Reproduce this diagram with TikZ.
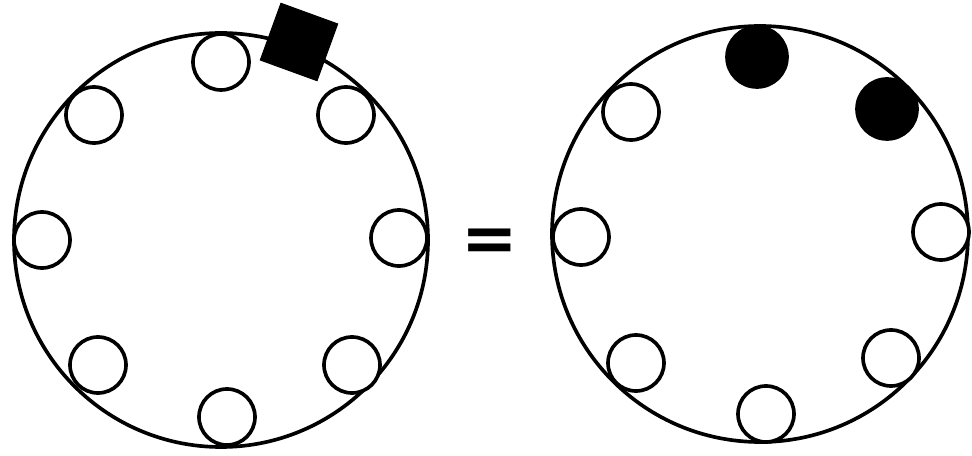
\documentclass[tikz,border=0pt]{standalone}
\usepackage{fontspec}
\newfontfamily\eqfont{DejaVu Sans}
\usepackage{tikz}
\usetikzlibrary{positioning}

\begin{document}
\begin{tikzpicture}[
    ring/.style={draw, circle, line width=2.6pt, minimum size=10.35cm, inner sep=0pt},
    bead/.style={draw, circle, line width=2.6pt, fill=white, minimum size=1.4cm, inner sep=0pt},
    fullbead/.style={bead, fill=black, minimum size=1.5cm},
    block/.style={draw, fill=black, line width=1pt, minimum size=1.5cm, inner sep=0pt, rotate=-20},
]
    \useasboundingbox (0,0) rectangle (24.3,11.4);
    % left ring
    \node[ring] (r0) at (5.525,5.4) {};
    \node[bead] (a1) at (5.525,9.85) {};
    \node[bead] (a2) at (8.65,8.525) {};
    \node[bead] (a3) at (9.975,5.45) {};
    \node[bead] (a4) at (8.8,2.275) {};
    \node[bead] (a5) at (5.675,0.975) {};
    \node[bead] (a6) at (2.45,2.275) {};
    \node[bead] (a7) at (1.05,5.4) {};
    \node[bead] (a8) at (2.35,8.525) {};
    \node[block] (sq) at (7.475,10.35) {};
    % equals
    \node[inner sep=0pt] (eq) at (12.2375,5.275) {\eqfont\bfseries\fontsize{48}{48}\selectfont =};
    % right ring
    \node[ring, minimum size=10.4cm] (r1) at (19.0,5.55) {};
    \node[fullbead] (b1) at (18.925,9.975) {};
    \node[fullbead] (b2) at (22.175,8.675) {};
    \node[bead] (b3) at (23.525,5.6) {};
    \node[bead] (b4) at (22.275,2.45) {};
    \node[bead] (b5) at (19.15,1.05) {};
    \node[bead] (b6) at (15.9,2.325) {};
    \node[bead] (b7) at (14.525,5.475) {};
    \node[bead] (b8) at (15.775,8.6) {};
\end{tikzpicture}
\end{document}
